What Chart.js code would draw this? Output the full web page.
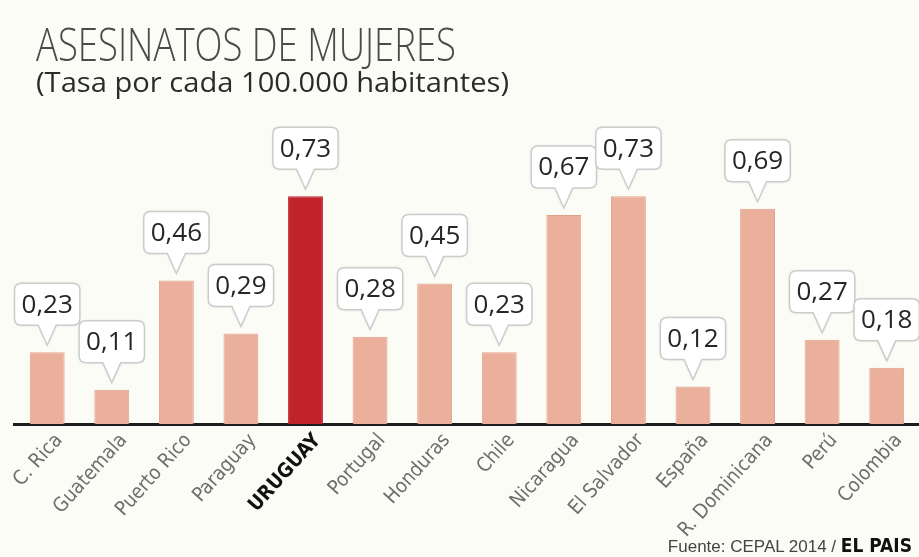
<!DOCTYPE html>
<html>
<head>
<meta charset="utf-8">
<script src="https://cdn.jsdelivr.net/npm/chart.js@4.4.1/dist/chart.umd.min.js"></script>
<style>
  html, body { margin: 0; padding: 0; background: #fcfcf6; }
  #wrap { position: relative; width: 919px; height: 557px; overflow: hidden; }
  #chart { position: absolute; left: 0; top: 0; }
  .fit { position: absolute; white-space: nowrap; line-height: 1; transform-origin: left top; }
  #title { left: 36px; top: 20px; font-family: 'Open Sans', sans-serif; font-weight: 300; font-size: 46px; color: #4a4a4a; }
  #subtitle { left: 36px; top: 67px; font-family: 'Open Sans', sans-serif; font-weight: 400; font-size: 28px; color: #2b2b2b; }
  #source { right: 7px; top: 536px; font-family: 'Liberation Sans', Arial, sans-serif; font-size: 17px; color: #444; position: absolute; white-space: nowrap; line-height: 1; }
  #source b { font-family: 'Liberation Sans Narrow', 'DejaVu Sans Condensed', sans-serif; color: #111; font-size: 19px; }
</style>
</head>
<body>
<div id="wrap">
  <canvas id="chart" width="919" height="557"></canvas>
  <div id="title" class="fit" data-w="420">ASESINATOS DE MUJERES</div>
  <div id="subtitle" class="fit" data-w="473">(Tasa por cada 100.000 habitantes)</div>
  <div id="source">Fuente: CEPAL 2014 / <b>EL PAIS</b></div>
</div>
<script>
(function () {
  'use strict';

  // -- Data ------------------------------------------------------------------
  const COUNTRIES = ['C. Rica', 'Guatemala', 'Puerto Rico', 'Paraguay', 'URUGUAY', 'Portugal',
    'Honduras', 'Chile', 'Nicaragua', 'El Salvador', 'España', 'R. Dominicana', 'Perú', 'Colombia'];
  const RATES = [0.23, 0.11, 0.46, 0.29, 0.73, 0.28, 0.45, 0.23, 0.67, 0.73, 0.12, 0.69, 0.27, 0.18];
  const HIGHLIGHT = 'URUGUAY';

  const BAR = '#eab09b';
  const BAR_EDGE = '#e2a089';
  const BAR_HI = '#c1232b';
  const LABEL_FONT = "'Liberation Sans Narrow', 'DejaVu Sans Condensed', sans-serif";

  function fmt(v) { return v.toFixed(2).replace('.', ','); }

  // stretch the HTML headings to the width they take in the picture
  document.querySelectorAll('.fit').forEach(function (el) {
    const w = el.getBoundingClientRect().width;
    el.style.transform = 'scaleX(' + (parseFloat(el.dataset.w) / w) + ')';
  });

  // ---- callout bubbles above each bar --------------------------------------
  const callouts = {
    id: 'callouts',
    afterDatasetsDraw: function (chart) {
      const ctx = chart.ctx;
      const meta = chart.getDatasetMeta(0);
      ctx.save();
      ctx.font = "26px 'Open Sans', sans-serif";
      ctx.textAlign = 'center';
      ctx.textBaseline = 'middle';
      meta.data.forEach(function (bar, i) {
        const txt = fmt(RATES[i]);
        const w = ctx.measureText(txt).width + 14;
        const h = 42;
        const x = bar.x;
        const tip = bar.y - 7;
        const bottom = bar.y - 27;
        const top = bottom - h;
        const left = x - w / 2;
        const r = 7;
        ctx.beginPath();
        ctx.moveTo(left + r, top);
        ctx.lineTo(left + w - r, top);
        ctx.quadraticCurveTo(left + w, top, left + w, top + r);
        ctx.lineTo(left + w, bottom - r);
        ctx.quadraticCurveTo(left + w, bottom, left + w - r, bottom);
        ctx.lineTo(x + 9, bottom);
        ctx.lineTo(x, tip);
        ctx.lineTo(x - 9, bottom);
        ctx.lineTo(left + r, bottom);
        ctx.quadraticCurveTo(left, bottom, left, bottom - r);
        ctx.lineTo(left, top + r);
        ctx.quadraticCurveTo(left, top, left + r, top);
        ctx.closePath();
        ctx.shadowColor = 'rgba(0,0,0,0.12)';
        ctx.shadowBlur = 3;
        ctx.fillStyle = '#ffffff';
        ctx.fill();
        ctx.shadowColor = 'transparent';
        ctx.lineWidth = 1.5;
        ctx.strokeStyle = '#cccccc';
        ctx.stroke();
        ctx.fillStyle = '#262626';
        ctx.fillText(txt, x, top + h / 2 + 1);
      });
      ctx.restore();
    }
  };

  new Chart(document.getElementById('chart').getContext('2d'), {
    type: 'bar',
    data: {
      labels: COUNTRIES,
      datasets: [{
        data: RATES,
        backgroundColor: COUNTRIES.map(function (c) { return c === HIGHLIGHT ? BAR_HI : BAR; }),
        borderColor: COUNTRIES.map(function (c) { return c === HIGHLIGHT ? BAR_HI : BAR_EDGE; }),
        borderWidth: 1,
        categoryPercentage: 1,
        barPercentage: 0.54
      }]
    },
    options: {
      responsive: false,
      devicePixelRatio: 1,
      animation: false,
      layout: { padding: { top: 112, left: 12, right: 0, bottom: 0 } },
      plugins: { legend: { display: false }, tooltip: { enabled: false } },
      scales: {
        y: { display: false, min: 0, max: 1 },
        x: {
          afterFit: function (scale) { scale.height = 133; },
          grid: { display: true, drawOnChartArea: false, drawTicks: false, color: 'transparent' },
          border: { display: true, color: '#1c1c1c', width: 3 },
          ticks: {
            autoSkip: false,
            minRotation: 48,
            maxRotation: 48,
            padding: 5,
            labelOffset: 12,
            color: function (c) { return COUNTRIES[c.index] === HIGHLIGHT ? '#111111' : '#6e6e6e'; },
            font: function (c) {
              return { family: LABEL_FONT, size: 20, weight: COUNTRIES[c.index] === HIGHLIGHT ? 'bold' : 'normal' };
            }
          }
        }
      }
    },
    plugins: [callouts]
  });
})();
</script>
</body>
</html>
